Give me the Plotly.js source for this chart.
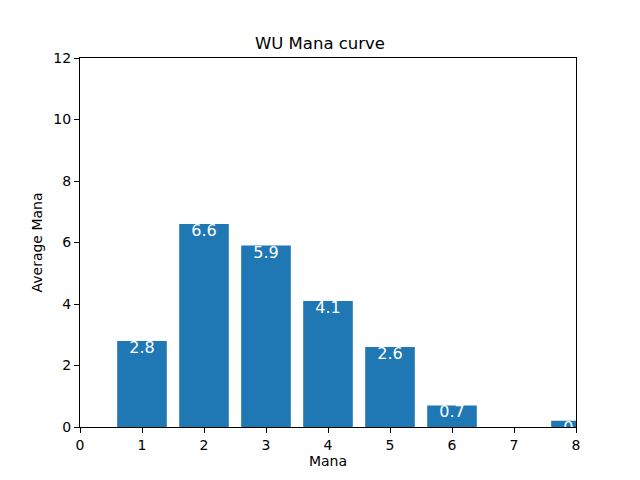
<!DOCTYPE html>
<html>
<head>
<meta charset="utf-8">
<script src="https://cdn.plot.ly/plotly-3.0.1.min.js"></script>
<style>
    body { margin: 0; }
    #mana-plot { width: 640px; height: 480px; }
</style>
</head>
<body>
<div id="mana-plot"></div>
<script>
const manaCosts = [1, 2, 3, 4, 5, 6, 7, 8];
const avgCounts = [2.8, 6.6, 5.9, 4.1, 2.6, 0.7, 0, 0.2];
const barLabels = ['2.8', '6.6', '5.9', '4.1', '2.6', '0.7', '', '0.2'];
const xTicks = [0, 1, 2, 3, 4, 5, 6, 7, 8];
const yTicks = [0, 2, 4, 6, 8, 10, 12];

const font = 'DejaVu Sans';

const bars = {
    x: manaCosts,
    y: avgCounts,
    type: 'bar',
    width: 0.8,
    marker: { color: '#1f77b4', line: { width: 0 } },
    hoverinfo: 'none',
};

// labels as a text trace so they get clipped at the frame like the original
const labels = {
    x: manaCosts,
    y: avgCounts,
    text: barLabels,
    mode: 'text',
    type: 'scatter',
    textposition: 'bottom center',
    textfont: { family: font, size: 16, color: '#ffffff' },
    cliponaxis: true,
    hoverinfo: 'none',
};

const axisStyle = {
    showline: true,
    linecolor: '#000000',
    linewidth: 1,
    mirror: true,
    ticks: 'outside',
    ticklen: 5,
    tickcolor: '#000000',
    showgrid: false,
    zeroline: false,
    tickfont: { family: font, size: 14, color: '#000000' },
};

const layout = {
    width: 640,
    height: 480,
    margin: { l: 80, r: 64, t: 58, b: 53 },
    showlegend: false,
    title: {
        text: 'WU Mana curve',
        font: { family: font, size: 16.5, color: '#000000' },
        x: 0.5,
        xanchor: 'center',
        y: 0.91,
        yanchor: 'middle',
    },
    xaxis: Object.assign({}, axisStyle, {
        range: [0, 8],
        tickvals: xTicks,
        title: { text: 'Mana', font: { family: font, size: 14, color: '#000000' }, standoff: 4 },
    }),
    yaxis: Object.assign({}, axisStyle, {
        range: [0, 12],
        tickvals: yTicks,
        title: { text: 'Average Mana', font: { family: font, size: 14, color: '#000000' }, standoff: 7 },
    }),
    plot_bgcolor: '#ffffff',
    paper_bgcolor: '#ffffff',
};

Plotly.newPlot('mana-plot', [bars, labels], layout, { displayModeBar: false, staticPlot: true });
</script>
</body>
</html>
